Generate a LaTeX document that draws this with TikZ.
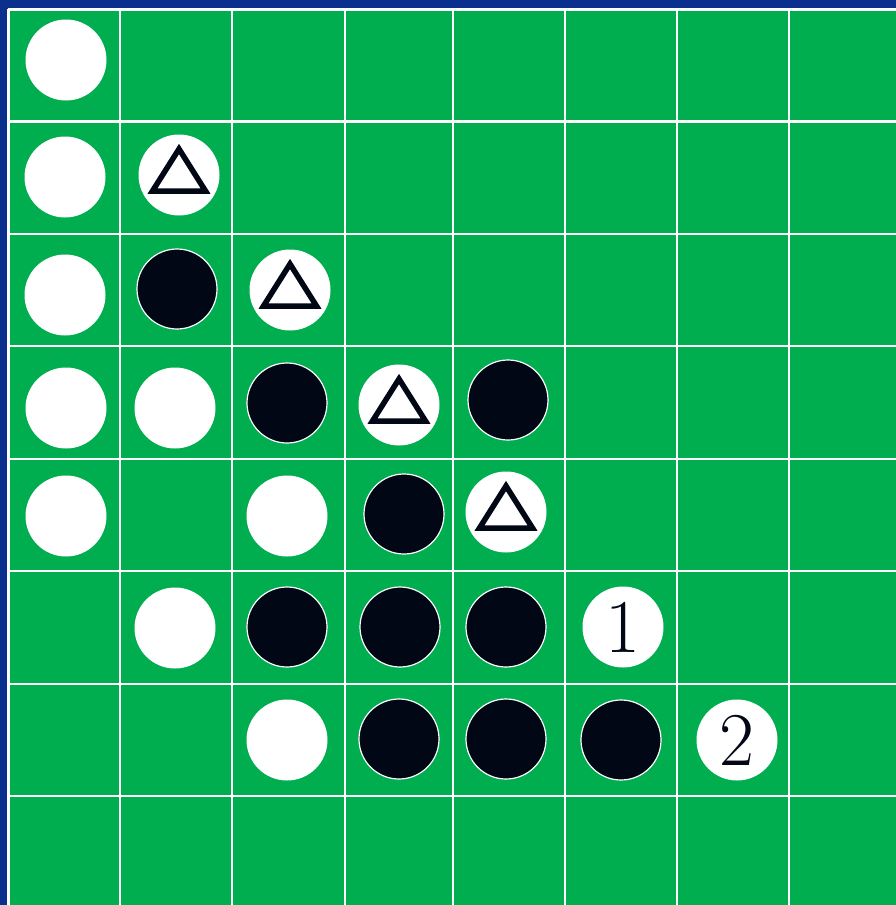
\documentclass[tikz,border=0pt]{standalone}
\definecolor{bd}{HTML}{0A2F8C}
\definecolor{gr}{HTML}{00AD4F}
\definecolor{bk}{HTML}{020716}
\tikzset{
  wdisc/.style={circle, fill=white, minimum size=81pt, inner sep=0pt, font=\fontsize{76}{80}\selectfont, text=bk},
  bdisc/.style={circle, fill=bk, draw=white, line width=1.2pt, minimum size=80pt, inner sep=0pt},
  gline/.style={white, line width=2.5pt},
  tri/.style={bk, line width=5.5pt, line join=miter}
}
\newcommand{\tri}[1]{\draw[tri] ([shift={(0,-26)}]#1.center) -- ([shift={(26.5,16)}]#1.center) -- ([shift={(-26.5,16)}]#1.center) -- cycle;}
\begin{document}
\begin{tikzpicture}[x=1pt,y=-1pt]
\useasboundingbox (0,0) rectangle (896,905);
\fill[bd] (0,0) rectangle (896,905);
\fill[gr] (8,9) rectangle (896,905);
\foreach \x in {8.5,120,232,345,453,565,677,789} \draw[gline] (\x,9) -- (\x,905);
\foreach \y in {9.5,121.5,234,346,459,571,684,796} \draw[gline] (8,\y) -- (896,\y);
% row 1
\node[wdisc] (a1) at (66,60) {};
% row 2
\node[wdisc] (a2) at (65,177) {};
\node[wdisc] (b2) at (179,175) {};
% row 3
\node[wdisc] (a3) at (65,295) {};
\node[bdisc] (b3) at (177,289) {};
\node[wdisc] (c3) at (290,290) {};
% row 4
\node[wdisc] (a4) at (66,408) {};
\node[wdisc] (b4) at (175,408) {};
\node[bdisc] (c4) at (287,403) {};
\node[wdisc] (d4) at (399,405) {};
\node[bdisc] (e4) at (508,400) {};
% row 5
\node[wdisc] (a5) at (66,516) {};
\node[wdisc] (c5) at (287,516) {};
\node[bdisc] (d5) at (404,514) {};
\node[wdisc] (e5) at (506,512) {};
% row 6
\node[wdisc] (b6) at (175,628) {};
\node[bdisc] (c6) at (287,627) {};
\node[bdisc] (d6) at (400,627) {};
\node[bdisc] (e6) at (506,627) {};
\node[wdisc] (f6) at (623,627) {1};
% row 7
\node[wdisc] (c7) at (287,740) {};
\node[bdisc] (d7) at (399,739) {};
\node[bdisc] (e7) at (506,739) {};
\node[bdisc] (f7) at (621,740) {};
\node[wdisc] (g7) at (737,740) {2};
% triangles
\tri{b2}
\tri{c3}
\tri{d4}
\tri{e5}
\end{tikzpicture}
\end{document}
